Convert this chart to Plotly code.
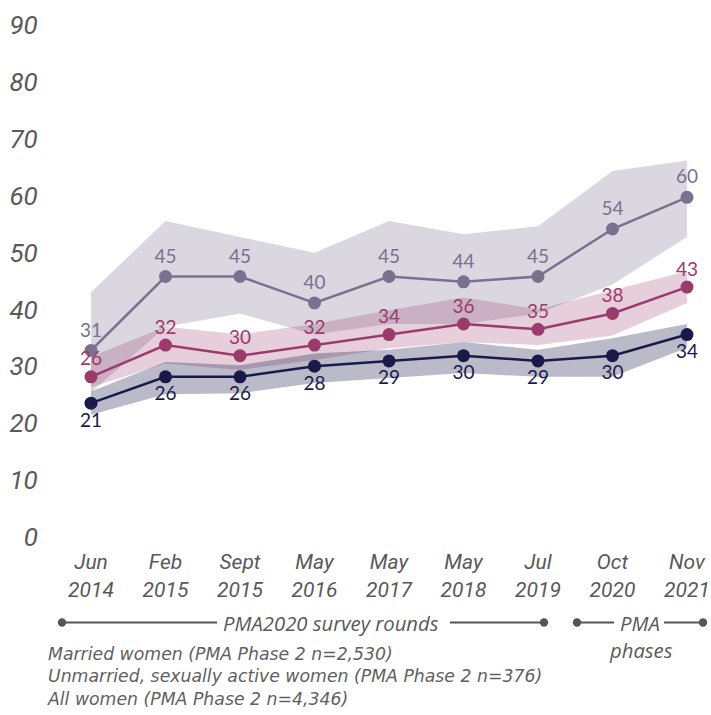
import plotly.graph_objects as go

# ---- data ----
categories = ["Jun<br>2014", "Feb<br>2015", "Sept<br>2015", "May<br>2016", "May<br>2017",
              "May<br>2018", "Jul<br>2019", "Oct<br>2020", "Nov<br>2021"]

# Unmarried, sexually active women (widest interval)
unmarried = [31, 45, 45, 40, 45, 44, 45, 54, 60]
unmarried_hi = [42, 55.5, 52.5, 49.5, 55.5, 53, 54.5, 65, 67]
unmarried_lo = [23, 35.5, 38, 34, 36, 36, 38, 43.5, 52.5]

# Married women
married = [26, 32, 30, 32, 34, 36, 35, 38, 43]
married_hi = [29.8, 35.5, 34, 36, 38.6, 41, 38.8, 42.4, 46]
married_lo = [24, 28.5, 27.3, 29.2, 31.4, 32.6, 32, 33.8, 40]

# All women (narrowest interval)
allwomen = [21, 26, 26, 28, 29, 30, 29, 30, 34]
allwomen_hi = [23.2, 28.8, 28.2, 30.4, 31.1, 32.6, 31.1, 33.3, 36]
allwomen_lo = [18.8, 22.7, 22.9, 24.8, 25.7, 26.7, 26, 26, 31.5]

ytick_vals = [0, 10, 20, 30, 40, 50, 60, 70, 80, 90]

legend_lines = ["Married women (PMA Phase 2 n=2,530)",
                "Unmarried, sexually active women (PMA Phase 2 n=376)",
                "All women (PMA Phase 2 n=4,346)"]

# name, values, lo, hi, colour, band colour, label position, label offset marker size
series = [
    ("Unmarried, sexually active women", unmarried, unmarried_lo, unmarried_hi,
     "#7b7090", "rgba(123,112,144,0.28)", "top center", 13),
    ("Married women", married, married_lo, married_hi,
     "#9b3b6c", "rgba(155,59,108,0.25)", "top center", 9),
    ("All women", allwomen, allwomen_lo, allwomen_hi,
     "#1a1a4a", "rgba(26,26,74,0.30)", "bottom center", 13),
]

TXT = "#595959"
FONT = "Roboto"
NOTE_FONT = "Open Sans"

fig = go.Figure()

# empty trace that makes the labelled base y axis exist
fig.add_trace(go.Scatter(x=[], y=[], yaxis="y", showlegend=False, hoverinfo="skip"))

# bands first
for name, vals, lo, hi, col, band, tp, lsz in series:
    fig.add_trace(go.Scatter(
        x=categories + categories[::-1],
        y=hi + lo[::-1],
        fill="toself", fillcolor=band, line=dict(width=0),
        mode="lines", hoverinfo="skip", showlegend=False, yaxis="y2"))

# lines + markers
for name, vals, lo, hi, col, band, tp, lsz in series:
    fig.add_trace(go.Scatter(
        x=categories, y=vals, name=name, mode="lines+markers",
        line=dict(color=col, width=2.5),
        marker=dict(color=col, size=13),
        showlegend=False, yaxis="y2", cliponaxis=False))

# value labels
for name, vals, lo, hi, col, band, tp, lsz in series:
    fig.add_trace(go.Scatter(
        x=categories, y=vals, mode="markers+text",
        marker=dict(color=col, size=lsz, opacity=0),
        text=[str(v) for v in vals], textposition=tp,
        textfont=dict(family="Lato", size=19, color=col),
        hoverinfo="skip", showlegend=False, yaxis="y2", cliponaxis=False))

# pixel geometry
W, H = 711, 715
L, R, T, B = 50, 6, 20, 173
pw = W - L - R
ph = H - T - B
plot_b = H - B

def px(x):
    return (x - L) / pw

def py(y):
    return (plot_b - y) / ph

# data axis: value 0 at 514px, 90 at 39px
k = (514 - 39) / 90
dlo = -(plot_b - 514) / k
dhi = dlo + ph / k
# tick label axis: 0 at 537px, 90 at 25px
k2 = (537 - 25) / 90
tlo = -(plot_b - 537) / k2
thi = tlo + ph / k2

xk = (687 - 91) / 8
xa = -(91 - L) / xk
xb = xa + pw / xk

fig.update_layout(
    width=W, height=H,
    margin=dict(l=L, r=R, t=T, b=B, autoexpand=False),
    paper_bgcolor="white", plot_bgcolor="white",
    xaxis=dict(range=[xa, xb], showgrid=False, zeroline=False, showline=False,
               automargin=False,
               ticks="outside", ticklen=1, tickcolor="rgba(0,0,0,0)",
               tickfont=dict(family=FONT, size=21, color=TXT, style="italic")),
    yaxis=dict(range=[tlo, thi], tickvals=ytick_vals, showgrid=False, zeroline=False,
               showline=False, ticks="outside", ticklen=6, tickcolor="rgba(0,0,0,0)",
               automargin=False,
               tickfont=dict(family=FONT, size=26, color=TXT, style="italic")),
    yaxis2=dict(range=[dlo, dhi], overlaying="y", visible=False, automargin=False),
)

shapes = []
annos = []
line_style = dict(color="#555555", width=2)
ybr = py(622.5)
for x0, x1 in [(62, 217), (450, 544), (577, 614), (664, 703)]:
    shapes.append(dict(type="line", xref="paper", yref="paper",
                       x0=px(x0), x1=px(x1), y0=ybr, y1=ybr, line=line_style))
for xd in [62, 544, 577, 703]:
    shapes.append(dict(type="circle", xref="paper", yref="paper",
                       xsizemode="pixel", ysizemode="pixel",
                       xanchor=px(xd), yanchor=ybr, x0=-4.2, x1=4.2, y0=-4.2, y1=4.2,
                       fillcolor="#555555", line=dict(width=0)))

note_font = dict(family=NOTE_FONT, size=20.3, color=TXT, style="italic")
annos.append(dict(text="PMA2020 survey rounds", xref="paper", yref="paper",
                  x=px(331), y=ybr, xanchor="center", yanchor="middle", showarrow=False,
                  font=note_font))
annos.append(dict(text="PMA", xref="paper", yref="paper",
                  x=px(639.5), y=ybr, xanchor="center", yanchor="middle", showarrow=False,
                  font=note_font))
annos.append(dict(text="phases", xref="paper", yref="paper",
                  x=px(641), y=py(650), xanchor="center", yanchor="middle", showarrow=False,
                  font=note_font))
# legend block: one multi-line text
annos.append(dict(text="<br>".join(legend_lines), xref="paper", yref="paper",
                  x=px(45), y=py(642), xanchor="left", yanchor="top", align="left",
                  showarrow=False,
                  font=dict(family="DejaVu Sans", size=17.3, color="#5f5f5f", style="italic")))

fig.update_layout(shapes=shapes, annotations=annos)
fig.write_html("out.html",
               config={"displayModeBar": False},
               post_script="document.body.style.margin='0';"
                           "document.body.style.overflow='hidden';")
